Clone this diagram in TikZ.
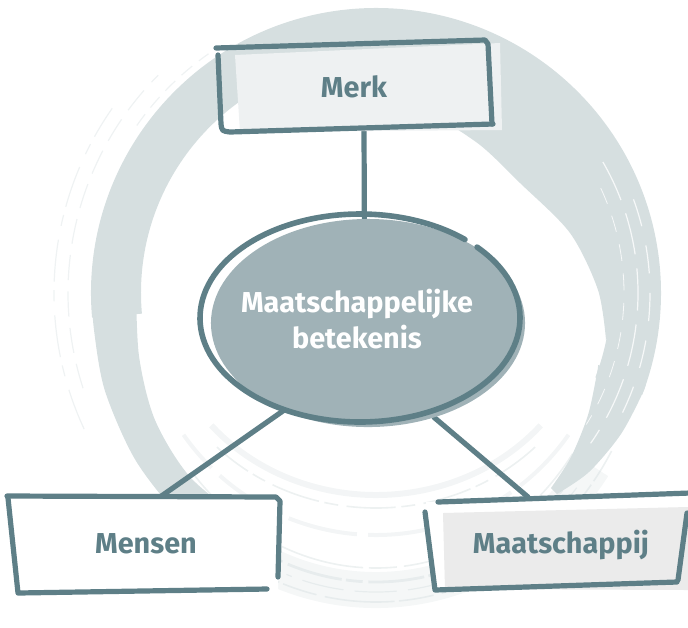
\documentclass[tikz,border=0pt]{standalone}
\usepackage{fontspec}
\setmainfont{Fira Sans}
\usetikzlibrary{shapes.geometric,backgrounds}
\definecolor{signline}{HTML}{5E7F87}
\definecolor{kernfill}{HTML}{A0B2B7}
\definecolor{brush}{HTML}{D6DFE0}
\definecolor{merkfill}{HTML}{EEF1F2}
\definecolor{maatfill}{HTML}{EBEBEB}
\tikzset{
	signpen/.style={line width=0.13cm, color=signline, line cap=round, line join=round},
	signtext/.style={font=\fontsize{20.5}{25.5}\selectfont\bfseries, text=signline, inner sep=0pt},
	streak/.style={color=brush, line width=0.04cm, opacity=0.45},
}

\begin{document}
\begin{tikzpicture}[x=0.025cm, y=-0.025cm]
			%%%%% START %%%%%
			\useasboundingbox (0,0) rectangle (688,627);
			
			% Merk
			\fill[merkfill] (235,55) -- (500,43) -- (502,130) -- (240,132) -- cycle;
			\draw[signpen] (216,48) -- (485,40) -- (488,44) -- (492,124);
			\draw[signpen] (218,55) -- (221,124) .. controls (222,131) .. (230,132) -- (493,124);
			\node[signtext, anchor=base] (merk) at (354,97) {Merk};
			\coordinate (merk-foot) at (364,130);
			
			% kern
			\node[ellipse, fill=kernfill, minimum width=7.85cm, minimum height=5.2cm, inner sep=0pt, outer sep=0pt] (kern) at (368,323) {};
			\draw[signpen, line width=0.14cm] (360,318) ++(-43:160 and 104) arc[start angle=-43, end angle=311, x radius=160, y radius=104];
			\node[signtext, text=white, align=center] (kern-label) at (357,319) {Maatschappelijke\\betekenis};
			
			% Mensen
			\fill[white] (10,497) -- (279,497) -- (278,590) -- (16,593) -- cycle;
			\draw[signpen] (7,496) -- (276,497) -- (280,501) -- (278,577);
			\draw[signpen] (8,498) -- (18,593) -- (267,589);
			\node[signtext, anchor=base] (mensen) at (146,553) {Mensen};
			\coordinate (mensen-top) at (160,497);
			
			% Maatschappij
			\fill[white] (426,502) -- (688,493) -- (688,592) -- (436,592) -- cycle;
			\fill[maatfill] (443,513) -- (688,507) -- (688,590) -- (445,589) -- cycle;
			\draw[signpen] (438,502) -- (690,493);
			\draw[signpen] (425,512) -- (435,590) -- (677,582);
			\draw[signpen] (687,513) -- (678,580);
			\node[signtext, anchor=base] (maatschappij) at (561,553) {Maatschappij};
			\coordinate (maatschappij-top) at (528,497);
			
			\begin{scope}[on background layer]
			% brush ring
			\draw[brush, line width=1.25cm] (376,293) ++(175:260) arc[start angle=175, end angle=381, radius=260];
			\fill[brush] plot[smooth] coordinates {(91,285) (94,330) (105,391) (136,461) (184,521) (235,558)} -- plot[smooth] coordinates {(252,527) (191,478) (155,420) (139,356) (136,285)} -- cycle;
			\fill[brush] plot[smooth] coordinates {(430,112) (480,145) (520,183) (570,233) (598,290) (606,340)} -- (630,300) -- (560,110) -- (450,70) -- cycle;
			\fill[brush] plot[smooth] coordinates {(645,380) (644,390) (621,434) (589,472) (557,494)} -- plot[smooth] coordinates {(551,488) (571,457) (588,415) (597,373) (598,365)} -- cycle;
			
			% faint strokes round the bottom
			\draw[streak, line width=0.9cm, opacity=0.25] (376,300) ++(35:265 and 290) arc[start angle=35, end angle=125, x radius=265 , y radius=290];
			\draw[streak, line width=0.07cm, dash pattern=on 40pt off 4pt on 12pt off 3pt] (376,300) ++(25:252 and 282) arc[start angle=25, end angle=125, x radius=252, y radius=282];
			\draw[streak, dash pattern=on 25pt off 3pt on 50pt off 6pt] (376,300) ++(30:272 and 302) arc[start angle=30, end angle=130, x radius=272, y radius=302];
			\draw[streak, dash pattern=on 60pt off 5pt on 20pt off 4pt] (376,300) ++(35:240 and 268) arc[start angle=35, end angle=140, x radius=240, y radius=268];
			\draw[streak, line width=0.03cm, dash pattern=on 30pt off 8pt] (376,300) ++(40:262 and 292) arc[start angle=40, end angle=110, x radius=262, y radius=292];
			\draw[streak, line width=0.15cm, opacity=0.3] (376,300) ++(40:215 and 195) arc[start angle=40, end angle=140, x radius=215, y radius=195];
			\draw[streak, dash pattern=on 35pt off 6pt on 10pt off 4pt] (376,300) ++(45:225 and 208) arc[start angle=45, end angle=135, x radius=225, y radius=208];
			\draw[streak, line width=0.1cm, opacity=0.3, dash pattern=on 50pt off 8pt] (376,300) ++(35:235 and 235) arc[start angle=35, end angle=145, x radius=235, y radius=235];
			
			% faint strokes on the left
			\draw[streak, line width=0.03cm, opacity=0.4, dash pattern=on 30pt off 10pt on 8pt off 6pt] (376,293) ++(155:322) arc[start angle=155, end angle=215, radius=322];
			\draw[streak, line width=0.03cm, opacity=0.4, dash pattern=on 18pt off 8pt] (376,293) ++(162:308) arc[start angle=162, end angle=225, radius=308];
			\draw[streak, line width=0.03cm, opacity=0.4, dash pattern=on 10pt off 6pt] (376,293) ++(215:292) arc[start angle=215, end angle=235, radius=292];
			
			% white streaks in the brush
			\draw[white, line width=0.03cm, opacity=0.8, dash pattern=on 30pt off 10pt] (376,293) ++(330:262) arc[start angle=330, end angle=395, radius=262];
			\draw[white, line width=0.03cm, opacity=0.8, dash pattern=on 20pt off 14pt] (376,293) ++(340:274) arc[start angle=340, end angle=388, radius=274];
			\draw[white, line width=0.02cm, opacity=0.8, dash pattern=on 12pt off 9pt] (376,293) ++(335:248) arc[start angle=335, end angle=392, radius=248];
			
			% connectors
			\draw[signpen] (merk-foot) -- (kern.92);
			\draw[signpen] (kern.226) -- (mensen-top);
			\draw[signpen] (kern.305) -- (maatschappij-top);
			\end{scope}
			
			%%%%% END %%%%%
\end{tikzpicture}
\end{document}
